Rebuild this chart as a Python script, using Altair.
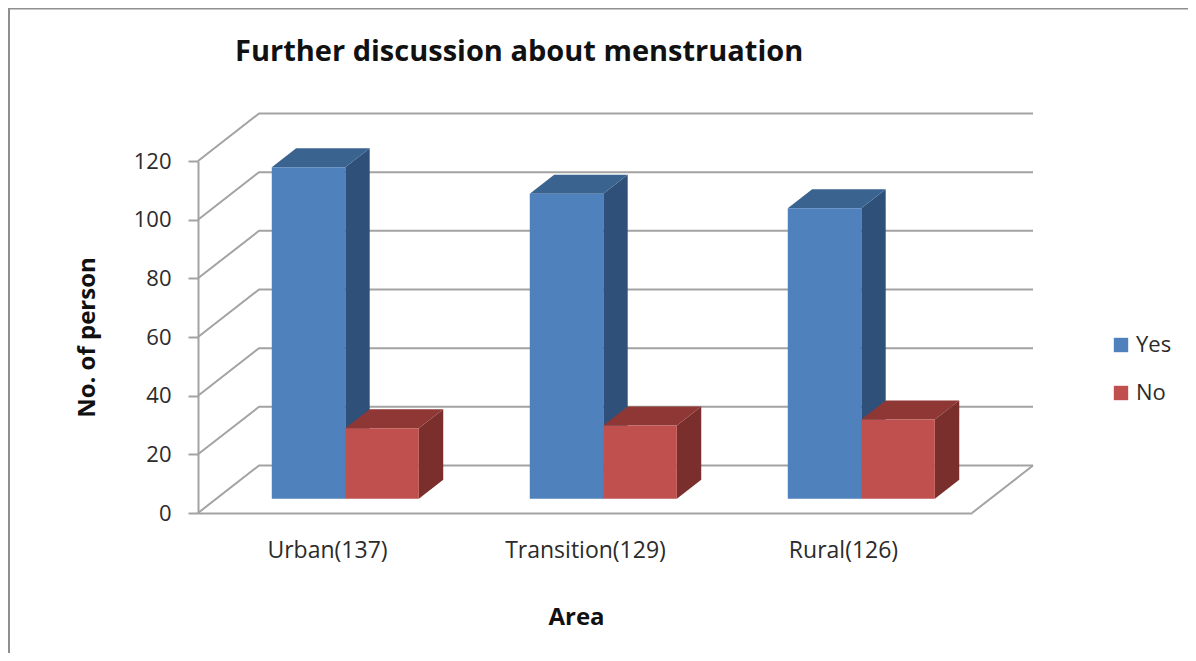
import altair as alt
import pandas as pd

categories = ["Urban(137)", "Transition(129)", "Rural(126)"]
series = ["Yes", "No"]
yes_values = [113, 104, 99]
no_values = [24, 25, 27]
y_ticks = [0, 20, 40, 60, 80, 100, 120]
title_text = "Further discussion about menstruation"

FRONT = {"Yes": "#4F81BD", "No": "#C0504D"}
TOP = {"Yes": "#3A6390", "No": "#8E3735"}
SIDE = {"Yes": "#2F5179", "No": "#7A2F2D"}
GRID = "#A3A3A3"
FONT = "Open Sans"
TEXT = "#2b2b2b"

W, H = 774, 352
PAD_L, PAD_T = 190, 153
PAD_R, PAD_B = 1180 - PAD_L - W, 645 - PAD_T - H

# oblique projection of the depth axis, in data units
DX = 61 / (W / 3)
DY = 47.5 / (H / 120)
T0, T1 = 0.3, 0.7
BAR_W = 0.285

x_scale = alt.Scale(domain=[0, 3], range=[0, W], nice=False, zero=False)
y_scale = alt.Scale(domain=[0, 120], range=[H, 0], nice=False, zero=False)

labels_expr = "[" + ",".join(f"'{c}'" for c in categories) + "][round(datum.value-0.5)]"
x_axis = alt.Axis(
    values=[0.5, 1.5, 2.5], labelExpr=labels_expr, title="Area", grid=False,
    ticks=False, domainColor=GRID, domainWidth=2, labelFont=FONT, labelFontSize=23,
    labelColor=TEXT, labelPadding=26, labelOverlap=False, labelFlush=False,
    titleFont=FONT, titleFontSize=24, titleFontWeight="bold", titleColor="#111111",
    titleX=378, titleY=92,
)
y_axis = alt.Axis(
    values=y_ticks, title="No. of person", grid=False, tickColor=GRID, tickWidth=2,
    tickSize=10, domainColor=GRID, domainWidth=2, labelFont=FONT, labelFontSize=22,
    labelColor=TEXT, labelPadding=17, titleFont=FONT, titleFontSize=24,
    titleFontWeight="bold", titleColor="#111111", titleX=-99, titleY=176,
)


def X(f):
    return alt.X(f"{f}:Q", scale=x_scale, axis=x_axis)


def Y(f):
    return alt.Y(f"{f}:Q", scale=y_scale, axis=y_axis)


# wall / floor lines
rows = []
for v in y_ticks:
    rows += [
        dict(line=f"g{v}", o=0, px=0, py=v),
        dict(line=f"g{v}", o=1, px=DX, py=v + DY),
        dict(line=f"g{v}", o=2, px=3 + DX, py=v + DY),
    ]
rows += [dict(line="floor", o=0, px=3, py=0), dict(line="floor", o=1, px=3 + DX, py=DY)]
grid_df = pd.DataFrame(rows)

grid = alt.Chart(grid_df).mark_line(color=GRID, strokeWidth=2, strokeJoin="miter").encode(
    x=X("px"), y=Y("py"), detail="line:N", order="o:Q",
)

# faces
values = {"Yes": yes_values, "No": no_values}
layers = [grid]
for s_i, s in enumerate(series):
    side_rows, top_rows, front_rows = [], [], []
    for i, c in enumerate(categories):
        v = values[s][i]
        # left edge of the front face
        xl = i + 0.5 + T0 * DX + (s_i - 1) * BAR_W
        xr = xl + BAR_W
        b0 = T0 * DY
        d = (T1 - T0)
        front_rows.append(dict(series=s, cat=c, x0=xl, x1=xr, y0=b0, y1=b0 + v))
        side_rows += [
            dict(cat=c, x0=xr, y0=b0, y1=b0 + v),
            dict(cat=c, x0=xr + d * DX, y0=T1 * DY, y1=T1 * DY + v),
        ]
        top_rows += [
            dict(cat=c, y0=b0 + v, x0=xl, x1=xr),
            dict(cat=c, y0=T1 * DY + v, x0=xl + d * DX, x1=xr + d * DX),
        ]
    side = alt.Chart(pd.DataFrame(side_rows)).mark_area(
        orient="vertical", color=SIDE[s], interpolate="linear"
    ).encode(x=X("x0"), y=Y("y0"), y2="y1:Q", detail="cat:N")
    top = alt.Chart(pd.DataFrame(top_rows)).mark_area(
        orient="horizontal", color=TOP[s], interpolate="linear"
    ).encode(y=Y("y0"), x=X("x0"), x2="x1:Q", detail="cat:N")
    front = alt.Chart(pd.DataFrame(front_rows)).mark_rect().encode(
        x=X("x0"), x2="x1:Q", y=Y("y0"), y2="y1:Q",
        color=alt.Color(
            "series:N",
            scale=alt.Scale(domain=series, range=[FRONT[k] for k in series]),
            legend=alt.Legend(
                title=None, orient="none", legendX=912, legendY=173, symbolType="square",
                symbolSize=207, symbolStrokeWidth=0, labelFont=FONT, labelFontSize=22,
                labelColor=TEXT, labelOffset=4, rowPadding=26,
            ),
        ),
    )
    layers += [side, top, front]

# outer frame of the picture
frame_left = alt.Chart(pd.DataFrame({"a": [0]})).mark_rule(color="#8F8F8F", strokeWidth=2).encode(
    x=alt.value(-PAD_L + 1), y=alt.value(-PAD_T), y2=alt.value(H + PAD_B)
)
frame_top = alt.Chart(pd.DataFrame({"a": [0]})).mark_rule(color="#8F8F8F", strokeWidth=2).encode(
    y=alt.value(-PAD_T + 0.5), x=alt.value(-PAD_L), x2=alt.value(W + PAD_R)
)
layers += [frame_left, frame_top]

chart = alt.layer(*layers).properties(
    width=W,
    height=H,
    padding={"left": PAD_L, "top": PAD_T, "right": PAD_R, "bottom": PAD_B},
    autosize=alt.AutoSizeParams(type="none"),
    background="white",
    title=alt.TitleParams(
        title_text, anchor="start", dx=228, offset=-60, font=FONT, fontSize=29,
        fontWeight="bold", color="#111111",
    ),
).configure_view(stroke=None)

chart.save("out.html", embed_options={"renderer": "svg", "actions": False})
